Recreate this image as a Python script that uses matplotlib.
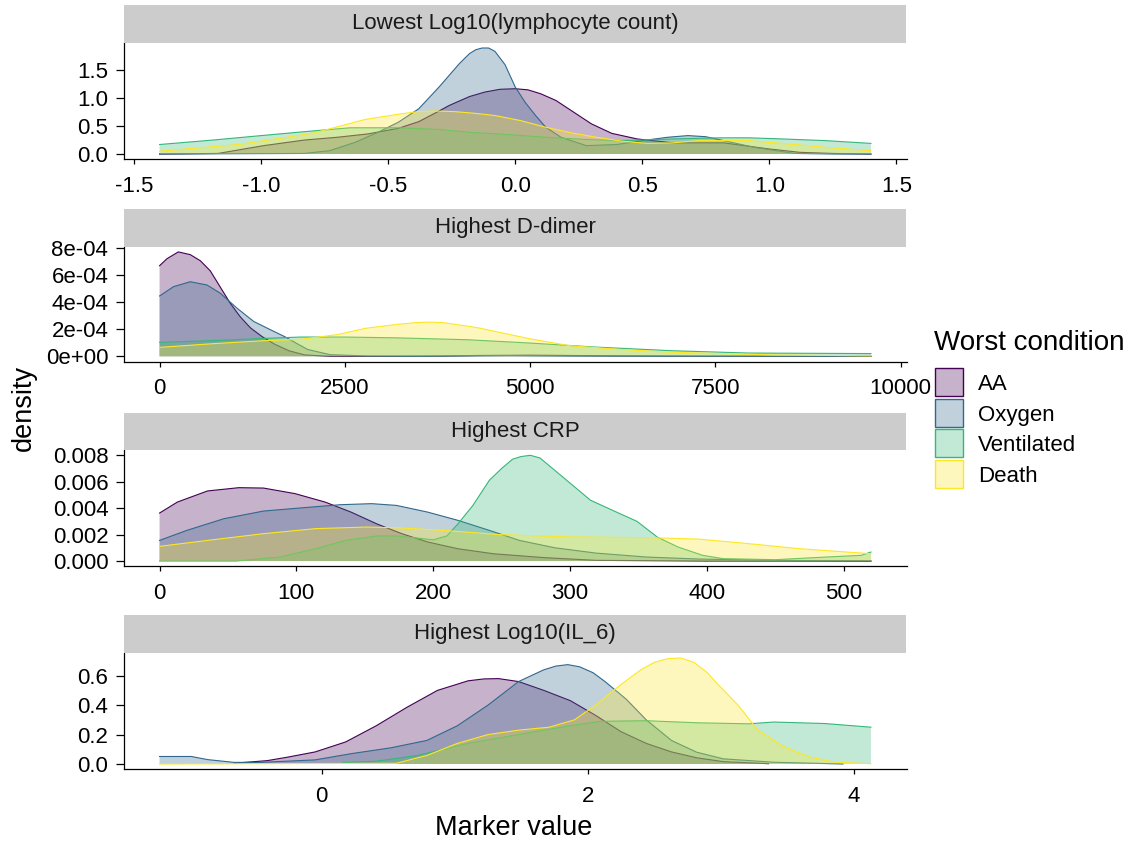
import matplotlib
matplotlib.use("Agg")
import matplotlib.pyplot as plt
from matplotlib.patches import Rectangle

plt.rcParams['font.family'] = ['Liberation Sans', 'DejaVu Sans']

# ---------------- data ----------------
groups = ["AA", "Oxygen", "Ventilated", "Death"]
colors = ["#440154", "#31688E", "#35B779", "#FDE725"]
panel_titles = ["Lowest Log10(lymphocyte count)", "Highest D-dimer",
                "Highest CRP", "Highest Log10(IL_6)"]

# Panel 1: Lowest Log10(lymphocyte count)
lym_aa_x = [-1.4, -1.17, -0.99, -0.83, -0.7, -0.58, -0.46, -0.38, -0.3, -0.26, -0.18, -0.12, -0.06,
            0.0, 0.05, 0.1, 0.16, 0.22, 0.3, 0.38, 0.48, 0.62, 0.82, 1.0, 1.12, 1.25, 1.4]
lym_aa_y = [0.0, 0.01, 0.15, 0.25, 0.30, 0.36, 0.46, 0.58, 0.77, 0.87, 1.03, 1.11, 1.16,
            1.17, 1.15, 1.08, 0.96, 0.78, 0.54, 0.37, 0.27, 0.2, 0.2, 0.09, 0.03, 0.01, 0.0]
lym_ox_x = [-1.4, -0.83, -0.73, -0.63, -0.54, -0.46, -0.38, -0.3, -0.22, -0.18, -0.155, -0.13,
            -0.105, -0.08, -0.04, 0.0, 0.04, 0.08, 0.12, 0.18, 0.28, 0.4, 0.5, 0.6, 0.68, 0.75,
            0.82, 0.94, 1.1, 1.25, 1.4]
lym_ox_y = [0.0, 0.01, 0.06, 0.21, 0.39, 0.57, 0.81, 1.2, 1.62, 1.8, 1.87, 1.9, 1.9, 1.84, 1.6,
            1.2, 0.92, 0.69, 0.48, 0.3, 0.15, 0.17, 0.24, 0.3, 0.33, 0.31, 0.24, 0.12, 0.01,
            0.0, 0.0]
lym_ve_x = [-1.4, -1.19, -1.0, -0.83, -0.65, -0.46, -0.3, -0.18, 0.0, 0.12, 0.28, 0.42, 0.62, 0.8,
            0.92, 1.05, 1.22, 1.4]
lym_ve_y = [0.17, 0.25, 0.33, 0.40, 0.47, 0.47, 0.44, 0.39, 0.34, 0.3, 0.26, 0.24, 0.27, 0.29,
            0.29, 0.27, 0.24, 0.19]
lym_de_x = [-1.4, -1.09, -0.9, -0.79, -0.59, -0.45, -0.38, -0.31, -0.24, -0.16, -0.08, 0.02, 0.12,
            0.22, 0.32, 0.42, 0.52, 0.62, 0.72, 0.92, 1.1, 1.22, 1.4]
lym_de_y = [0.05, 0.17, 0.30, 0.38, 0.62, 0.72, 0.76, 0.77, 0.76, 0.73, 0.69, 0.6, 0.48,
            0.38, 0.3, 0.23, 0.19, 0.2, 0.24, 0.24, 0.17, 0.12, 0.06]

# Panel 2: Highest D-dimer
dd_aa_x = [0, 100, 253, 414, 550, 685, 820, 955, 1091, 1226, 1384, 1550, 1750, 1960, 2300, 3000,
           3800, 4300, 5000, 6000, 7000, 8300, 9600]
dd_aa_y = [6.68e-4, 7.2e-4, 7.7e-4, 7.5e-4, 7.05e-4, 6.3e-4, 5.1e-4, 3.9e-4, 2.9e-4, 2.1e-4,
           1.45e-4, 0.9e-4, 0.4e-4, 0.1e-4, 0.0, 0.0, 0.02e-4, 0.06e-4, 0.08e-4, 0.04e-4,
           0.02e-4, 0.0, 0.0]
dd_ox_x = [0, 190, 414, 640, 820, 1045, 1270, 1496, 1699, 1850, 2000, 2300, 2800, 3500, 4200,
           4700, 5500, 7000, 9600]
dd_ox_y = [4.45e-4, 5.14e-4, 5.5e-4, 5.26e-4, 4.65e-4, 3.55e-4, 2.57e-4, 1.96e-4, 1.42e-4,
           0.95e-4, 0.5e-4, 0.12e-4, 0.02e-4, 0.0, 0.03e-4, 0.05e-4, 0.02e-4, 0.0, 0.0]
dd_ve_x = [0, 700, 1410, 1900, 2500, 3199, 4162, 4987, 5882, 6914, 7946, 9600]
dd_ve_y = [1.03e-4, 1.15e-4, 1.32e-4, 1.42e-4, 1.42e-4, 1.36e-4, 1.22e-4, 0.98e-4, 0.68e-4,
           0.41e-4, 0.24e-4, 0.2e-4]
dd_de_x = [0, 722, 1410, 1900, 2400, 2786, 3200, 3450, 3650, 3850, 4300, 4987, 5538, 6226, 6914,
           8290, 9600]
dd_de_y = [0.66e-4, 0.93e-4, 1.15e-4, 1.25e-4, 1.6e-4, 2.07e-4, 2.35e-4, 2.48e-4, 2.52e-4,
           2.47e-4, 2.1e-4, 1.3e-4, 0.78e-4, 0.5e-4, 0.3e-4, 0.1e-4, 0.03e-4]

# Panel 3: Highest CRP
crp_aa_x = [0, 13, 35, 58, 76, 99, 121, 140, 159, 177, 196, 218, 244, 282, 319, 400, 520]
crp_aa_y = [0.00363, 0.00446, 0.0053, 0.00555, 0.00552, 0.0051, 0.00446, 0.0037, 0.0028,
            0.00207, 0.00144, 0.00093, 0.00055, 0.00025, 0.00005, 0.0, 0.0]
crp_ox_x = [0, 20, 47, 76, 106, 132, 155, 173, 196, 218, 241, 263, 289, 319, 356, 394, 450, 520]
crp_ox_y = [0.00156, 0.00232, 0.0032, 0.00378, 0.00404, 0.00426, 0.00434, 0.00421, 0.0037,
            0.00308, 0.00232, 0.00156, 0.001, 0.0006, 0.0003, 0.00015, 0.00005, 0.0]
crp_ve_x = [0, 56, 88, 114, 136, 159, 173, 192, 200, 210, 218, 229, 241, 250, 258, 264, 271, 278,
            285, 300, 315, 334, 349, 364, 379, 397, 412, 450, 487, 513, 520]
crp_ve_y = [0.0, 0.0, 0.0003, 0.00093, 0.00156, 0.0019, 0.0019, 0.0017, 0.0016, 0.0019,
            0.0028, 0.0042, 0.0061, 0.0070, 0.0077, 0.0079, 0.008, 0.0078, 0.0072, 0.0059,
            0.0046, 0.0037, 0.003, 0.0018, 0.00106, 0.00043, 0.00018, 0.0001, 0.0003, 0.00043,
            0.00068]
crp_de_x = [0, 39, 76, 114, 151, 173, 207, 248, 300, 356, 394, 431, 468, 520]
crp_de_y = [0.00111, 0.00161, 0.00207, 0.00245, 0.00257, 0.00252, 0.00232, 0.002, 0.00182,
            0.00177, 0.00166, 0.00131, 0.00093, 0.00055]

# Panel 4: Highest Log10(IL_6)
il_aa_x = [-0.66, -0.41, -0.26, -0.05, 0.18, 0.41, 0.64, 0.87, 1.1, 1.22, 1.33, 1.48, 1.67, 1.87,
           2.06, 2.25, 2.44, 2.63, 2.82, 3.02, 3.36]
il_aa_y = [0.005, 0.023, 0.046, 0.082, 0.15, 0.26, 0.385, 0.5, 0.565, 0.578, 0.58, 0.56, 0.5,
           0.43, 0.33, 0.22, 0.14, 0.082, 0.042, 0.016, 0.002]
il_ox_x = [-1.22, -0.98, -0.86, -0.66, -0.46, -0.05, 0.22, 0.52, 0.79, 1.02, 1.25, 1.48, 1.67,
           1.76, 1.85, 1.94, 2.04, 2.13, 2.29, 2.44, 2.63, 2.82, 3.02, 3.4, 3.92]
il_ox_y = [0.051, 0.051, 0.03, 0.011, 0.011, 0.028, 0.07, 0.11, 0.16, 0.26, 0.4, 0.56, 0.64,
           0.665, 0.675, 0.66, 0.62, 0.56, 0.44, 0.3, 0.16, 0.08, 0.035, 0.012, 0.0]
il_ve_x = [0.16, 0.41, 0.72, 1.1, 1.48, 1.87, 2.1, 2.44, 2.82, 3.21, 3.4, 3.78, 4.13]
il_ve_y = [0.01, 0.019, 0.058, 0.14, 0.2, 0.26, 0.29, 0.294, 0.28, 0.273, 0.285, 0.275, 0.25]
il_de_x = [-1.22, 0.56, 0.79, 1.02, 1.25, 1.48, 1.71, 1.9, 2.06, 2.25, 2.4, 2.5, 2.6, 2.7, 2.8,
           2.9, 2.98, 3.13, 3.28, 3.47, 3.67, 3.86, 4.13]
il_de_y = [0.0, 0.005, 0.058, 0.14, 0.2, 0.23, 0.25, 0.3, 0.4, 0.54, 0.64, 0.69, 0.715, 0.72,
           0.69, 0.62, 0.54, 0.4, 0.23, 0.12, 0.047, 0.012, 0.002]

panels = [
    [(lym_aa_x, lym_aa_y), (lym_ox_x, lym_ox_y), (lym_ve_x, lym_ve_y), (lym_de_x, lym_de_y)],
    [(dd_aa_x, dd_aa_y), (dd_ox_x, dd_ox_y), (dd_ve_x, dd_ve_y), (dd_de_x, dd_de_y)],
    [(crp_aa_x, crp_aa_y), (crp_ox_x, crp_ox_y), (crp_ve_x, crp_ve_y), (crp_de_x, crp_de_y)],
    [(il_aa_x, il_aa_y), (il_ox_x, il_ox_y), (il_ve_x, il_ve_y), (il_de_x, il_de_y)],
]

x_ticks = [[-1.5, -1.0, -0.5, 0.0, 0.5, 1.0, 1.5], [0, 2500, 5000, 7500, 10000],
           [0, 100, 200, 300, 400, 500], [0, 2, 4]]
x_labels = [["-1.5", "-1.0", "-0.5", "0.0", "0.5", "1.0", "1.5"],
            ["0", "2500", "5000", "7500", "10000"],
            ["0", "100", "200", "300", "400", "500"], ["0", "2", "4"]]
y_ticks = [[0.0, 0.5, 1.0, 1.5], [0, 2e-4, 4e-4, 6e-4, 8e-4],
           [0, 0.002, 0.004, 0.006, 0.008], [0.0, 0.2, 0.4, 0.6]]
y_labels = [["0.0", "0.5", "1.0", "1.5"], ["0e+00", "2e-04", "4e-04", "6e-04", "8e-04"],
            ["0.000", "0.002", "0.004", "0.006", "0.008"], ["0.0", "0.2", "0.4", "0.6"]]

# ---------------- layout ----------------
W, H = 1136, 841
fig = plt.figure(figsize=(W / 100, H / 100), dpi=100)

left_px, right_px = 124, 906.5
panel_px = [(42.7, 159.3), (246.7, 361.5), (450.0, 566.3), (652.7, 769.3)]
strip_h = 37.4

for i, (top, bot) in enumerate(panel_px):
    ax = fig.add_axes([left_px / W, 1 - bot / H, (right_px - left_px) / W, (bot - top) / H])
    allx = [v for xs, _ in panels[i] for v in xs]
    ally = [v for _, ys in panels[i] for v in ys]
    xmin, xmax = min(allx), max(allx)
    ymax = max(ally)
    for g, (xs, ys) in enumerate(panels[i]):
        ax.fill_between(xs, ys, 0, facecolor=colors[g], alpha=0.3, linewidth=0, zorder=2 + 2 * g)
        ax.plot(xs, ys, color=colors[g], linewidth=0.8, zorder=3 + 2 * g)
    xr = xmax - xmin
    ax.set_xlim(xmin - 0.05 * xr, xmax + 0.05 * xr)
    ax.set_ylim(-0.05 * ymax, 1.05 * ymax)
    ax.set_xticks(x_ticks[i])
    ax.set_xticklabels(x_labels[i])
    ax.set_yticks(y_ticks[i])
    ax.set_yticklabels(y_labels[i])
    for s in ["top", "right"]:
        ax.spines[s].set_visible(False)
    for s in ["left", "bottom"]:
        ax.spines[s].set_linewidth(0.9)
        ax.spines[s].set_color("black")
    ax.tick_params(axis="x", length=3.6, width=0.9, pad=8.5, labelsize=16,
                   color="black", labelcolor="black")
    ax.tick_params(axis="y", length=5.8, width=0.9, pad=5.5, labelsize=16,
                   color="black", labelcolor="black")
    ax.set_facecolor("white")
    # strip
    fig.add_artist(Rectangle((left_px / W, 1 - top / H), (right_px - 1 - left_px) / W,
                             strip_h / H, transform=fig.transFigure,
                             facecolor="#CCCCCC", edgecolor="none"))
    fig.text((left_px + right_px) / 2 / W, 1 - (top - strip_h / 2) / H, panel_titles[i],
             ha="center", va="center", fontsize=16, color="#1A1A1A")

# axis titles
fig.text(514 / W, 1 - 835 / H, "Marker value", ha="center", va="baseline", fontsize=19.5)
fig.text(24 / W, 1 - 408 / H, "density", ha="center", va="center", rotation=90, fontsize=19.5)

# legend
fig.text(934 / W, 1 - 350 / H, "Worst condition", ha="left", va="baseline", fontsize=20)
box = 28
for g, name in enumerate(groups):
    ytop = 368 + g * 30.7
    fig.add_artist(Rectangle((935 / W, 1 - (ytop + box) / H), box / W, box / H,
                             transform=fig.transFigure, facecolor=colors[g], alpha=0.3,
                             edgecolor="none"))
    fig.add_artist(Rectangle((935 / W, 1 - (ytop + box) / H), box / W, box / H,
                             transform=fig.transFigure, facecolor="none",
                             edgecolor=colors[g], linewidth=1.0))
    fig.text(978 / W, 1 - (ytop + box / 2 + 8) / H, name, ha="left", va="baseline", fontsize=16)

fig.savefig("out.png", dpi=100, facecolor="white")
